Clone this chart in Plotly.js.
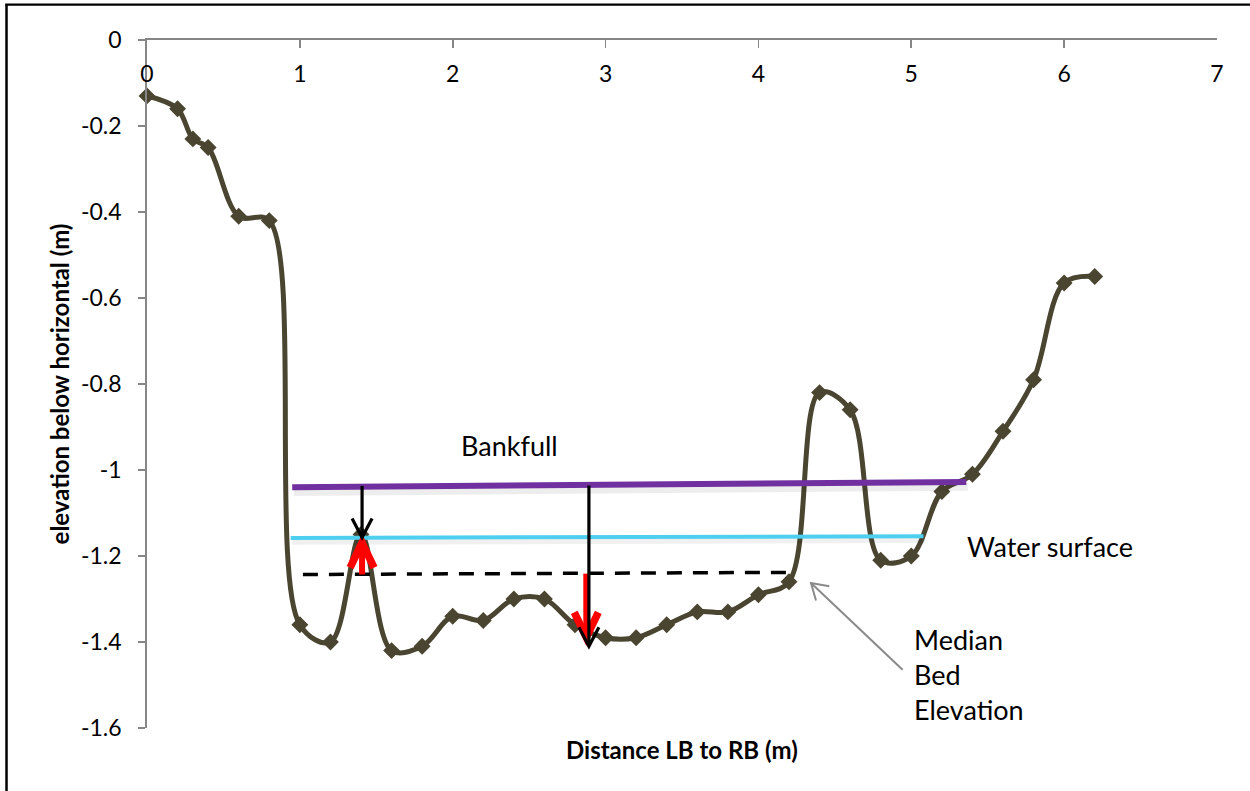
<!DOCTYPE html>
<html>
<head>
<meta charset="utf-8">
<script src="https://cdn.plot.ly/plotly-3.0.1.min.js"></script>
<style>
  html, body { margin: 0; padding: 0; background: #ffffff; }
  #chart { width: 1250px; height: 791px; }
</style>
</head>
<body>
<div id="chart"></div>
<script>
// ---- Cross-section survey (distance from left bank, elevation below horizontal) ----
const distance = [0, 0.2, 0.3, 0.4, 0.6, 0.8, 1.0, 1.2, 1.4, 1.6, 1.8, 2.0, 2.2, 2.4, 2.6, 2.8, 3.0,
                  3.2, 3.4, 3.6, 3.8, 4.0, 4.2, 4.4, 4.6, 4.8, 5.0, 5.2, 5.4, 5.6, 5.8, 6.0, 6.2];
const elevation = [-0.13, -0.16, -0.23, -0.25, -0.41, -0.42, -1.36, -1.40, -1.15, -1.42, -1.41, -1.34,
                   -1.35, -1.30, -1.30, -1.36, -1.39, -1.39, -1.36, -1.33, -1.33, -1.29, -1.26, -0.82,
                   -0.86, -1.21, -1.20, -1.05, -1.01, -0.91, -0.79, -0.565, -0.55];

// ---- Reference levels (drawn lines) ----
const bankfullX = [0.95, 5.36];
const bankfullY = [-1.040, -1.028];
const waterX = [0.94, 5.08];
const waterY = [-1.158, -1.154];
const medianX = [1.02, 4.24];
const medianY = [-1.243, -1.238];

// ---- Depth arrows: x position, start level, tip level ----
const blackArrowX = [1.407, 2.891];
const blackArrowFrom = [-1.037, -1.036];
const blackArrowTo = [-1.157, -1.410];
const redArrowX = [1.407, 2.874];
const redArrowFrom = [-1.243, -1.241];
const redArrowTo = [-1.169, -1.389];
// pointer from "Median Bed Elevation" label to the median line end
const pointerFrom = [4.943, -1.4646];
const pointerTo = [4.344, -1.2627];

// ---- Labels and ticks ----
const xTickVals = [0, 1, 2, 3, 4, 5, 6, 7];
const xTickText = ['0', '1', '2', '3', '4', '5', '6', '7'];
const yTickVals = [0, -0.2, -0.4, -0.6, -0.8, -1.0, -1.2, -1.4, -1.6];
const yTickText = ['0', '-0.2', '-0.4', '-0.6', '-0.8', '-1', '-1.2', '-1.4', '-1.6'];
const xTitle = 'Distance LB to RB (m)';
const yTitle = 'elevation below horizontal (m)';
const bankfullLabel = 'Bankfull';
const waterLabel = 'Water surface';
const medianLabelLines = ['Median', 'Bed', 'Elevation'];

const olive = '#4a4530';
const FONT = 'Lato, "Open Sans", sans-serif';

const trace = {
  x: distance,
  y: elevation,
  type: 'scatter',
  mode: 'lines+markers',
  line: { color: olive, width: 5, shape: 'spline', smoothing: 1 },
  marker: { symbol: 'diamond', size: 13, color: olive },
  cliponaxis: false,
  hoverinfo: 'x+y'
};

function seg(x0, y0, x1, y1, color, width, dash) {
  return { type: 'line', xref: 'x', yref: 'y', x0, y0, x1, y1, layer: 'above',
           line: { color, width, dash: dash || 'solid' } };
}
// V-shaped arrow head anchored at a data point, arms given in pixels (up = positive)
function vHead(xa, ya, arms, color, width) {
  const p = 'M' + arms[0][0] + ',' + arms[0][1] + ' L0,0 L' + arms[1][0] + ',' + arms[1][1];
  return { type: 'path', xref: 'x', yref: 'y', xsizemode: 'pixel', ysizemode: 'pixel',
           xanchor: xa, yanchor: ya, path: p, layer: 'above',
           line: { color, width } };
}

const shapes = [];
// soft shadows under the coloured levels
shapes.push(seg(bankfullX[0] + 0.01, bankfullY[0] - 0.011, bankfullX[1] + 0.01, bankfullY[1] - 0.011, 'rgba(0,0,0,0.07)', 8));
shapes.push(seg(waterX[0] + 0.01, waterY[0] - 0.009, waterX[1] + 0.01, waterY[1] - 0.009, 'rgba(0,0,0,0.06)', 6));
// levels
shapes.push(seg(bankfullX[0], bankfullY[0], bankfullX[1], bankfullY[1], '#7030a0', 6));
shapes.push(seg(waterX[0], waterY[0], waterX[1], waterY[1], '#4fcff0', 4));
shapes.push(seg(medianX[0], medianY[0], medianX[1], medianY[1], '#000000', 3.5, '15px,11px'));
// grey pointer
shapes.push(seg(pointerFrom[0], pointerFrom[1], pointerTo[0], pointerTo[1], '#8a8a8a', 2));
shapes.push(vHead(pointerTo[0], pointerTo[1], [[5, -17.6], [18.3, -3.3]], '#8a8a8a', 2));
// red arrows
for (let i = 0; i < redArrowX.length; i++) {
  shapes.push(seg(redArrowX[i], redArrowFrom[i], redArrowX[i], redArrowTo[i], '#ff0000', 6));
  const up = redArrowTo[i] > redArrowFrom[i];
  const dy = up ? -25 : 25;
  shapes.push(vHead(redArrowX[i], redArrowTo[i], [[-12, dy], [12, dy]], '#ff0000', 7.5));
}
// black arrows
for (let i = 0; i < blackArrowX.length; i++) {
  shapes.push(seg(blackArrowX[i], blackArrowFrom[i], blackArrowX[i], blackArrowTo[i], '#000000', 3.2));
  shapes.push(vHead(blackArrowX[i], blackArrowTo[i], [[-10, 19], [10, 19]], '#000000', 3.2));
}
// chart-area frame (left and top edges)
shapes.push({ type: 'line', xref: 'paper', yref: 'paper', x0: -0.1313, x1: -0.1313, y0: 1.0515, y1: -0.1,
              layer: 'above', line: { color: '#000', width: 2.5 } });
shapes.push({ type: 'line', xref: 'paper', yref: 'paper', x0: -0.1325, x1: 1.04, y0: 1.0515, y1: 1.0515,
              layer: 'above', line: { color: '#000', width: 2.2 } });

const annotations = [
  { xref: 'x', yref: 'y', x: 2.373, y: -0.944, text: bankfullLabel, showarrow: false,
    font: { family: FONT, size: 27, color: '#000' }, xanchor: 'center', yanchor: 'middle' },
  { xref: 'x', yref: 'y', x: 5.353, y: -1.179, text: waterLabel, showarrow: false,
    font: { family: FONT, size: 27, color: '#000' }, xanchor: 'left', yanchor: 'middle' },
  { xref: 'paper', yref: 'paper', x: 0.5, y: -0.031, text: '<b>' + xTitle + '</b>', showarrow: false,
    font: { family: FONT, size: 24, color: '#000' }, xanchor: 'center', yanchor: 'middle' }
];
medianLabelLines.forEach((t, i) => {
  annotations.push({ xref: 'x', yref: 'y', x: 5.003, y: -1.394, yshift: -35 * i, text: t, showarrow: false,
    font: { family: FONT, size: 27, color: '#000' }, xanchor: 'left', yanchor: 'middle' });
});

const layout = {
  width: 1250,
  height: 791,
  margin: { l: 147, r: 33, t: 40, b: 63 },
  paper_bgcolor: '#ffffff',
  plot_bgcolor: '#ffffff',
  showlegend: false,
  font: { family: FONT, color: '#000' },
  xaxis: {
    range: [0, 7], side: 'top',
    showline: true, linecolor: '#868686', linewidth: 1.8,
    ticks: 'inside', ticklen: 8, tickwidth: 1.8, tickcolor: '#868686',
    tickvals: xTickVals, ticktext: xTickText,
    ticklabelposition: 'inside', ticklabeloverflow: 'allow', ticklabelstandoff: 20,
    tickfont: { family: FONT, size: 23, color: '#000' },
    showgrid: false, zeroline: false
  },
  yaxis: {
    range: [-1.6, 0],
    showline: true, linecolor: '#868686', linewidth: 1.8,
    ticks: 'outside', ticklen: 7, tickwidth: 1.8, tickcolor: '#868686',
    tickvals: yTickVals, ticktext: yTickText, ticklabelstandoff: 12,
    tickfont: { family: FONT, size: 23, color: '#000' },
    showgrid: false, zeroline: false,
    title: { text: '<b>' + yTitle + '</b>', font: { family: FONT, size: 24, color: '#000' }, standoff: 4 }
  },
  shapes: shapes,
  annotations: annotations
};

Plotly.newPlot('chart', [trace], layout, { displayModeBar: false, staticPlot: true });
</script>
</body>
</html>
